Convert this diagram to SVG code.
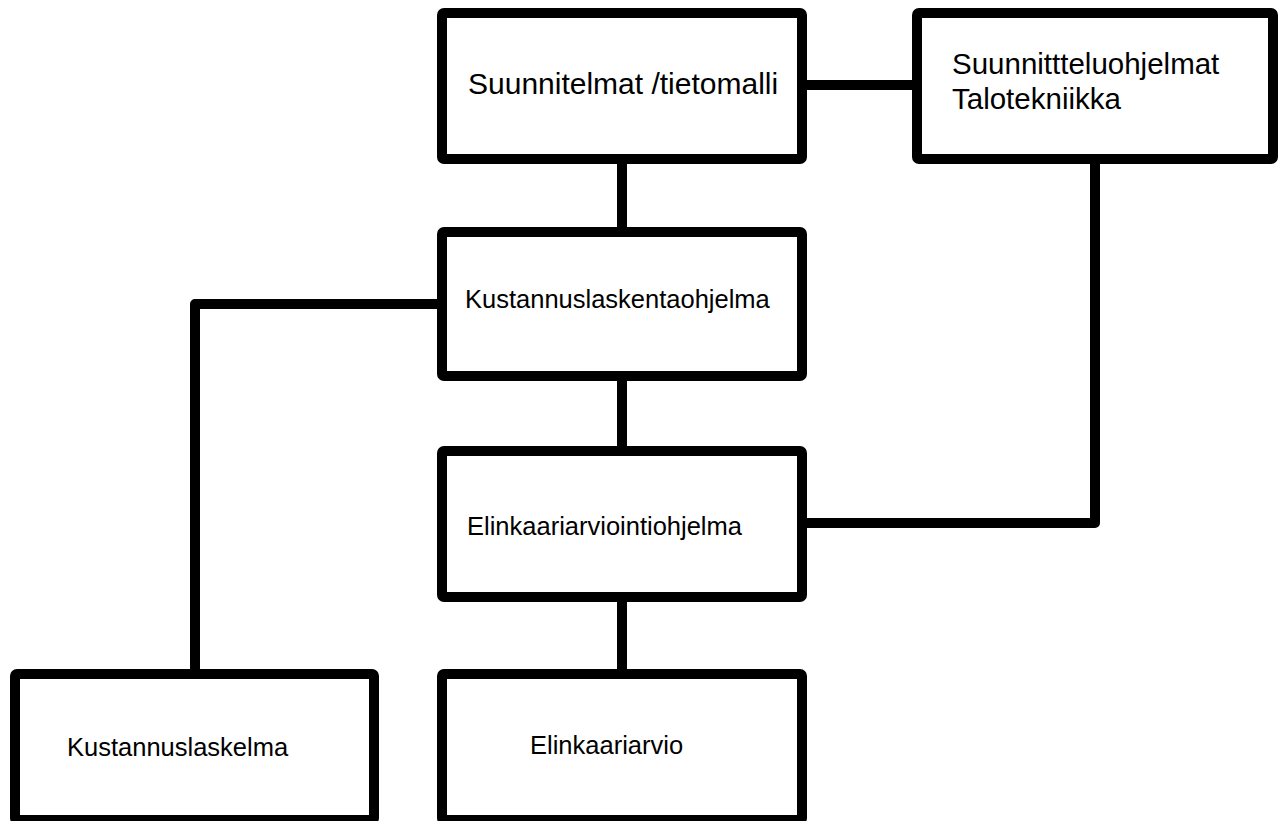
<svg xmlns="http://www.w3.org/2000/svg" width="1279" height="821" viewBox="0 0 1279 821">
<style>
.box{fill:#ffffff;stroke:#000000;stroke-width:10;stroke-linejoin:round}
.con{fill:none;stroke:#000000;stroke-width:10;stroke-linejoin:round}
.lg{font-family:"Liberation Sans",Arial,sans-serif;font-size:30px;fill:#000000}
.md{font-family:"Liberation Sans",Arial,sans-serif;font-size:29.5px;fill:#000000}
.sm{font-family:"Liberation Sans",Arial,sans-serif;font-size:25.5px;fill:#000000}
</style>
<rect x="0" y="0" width="1279" height="821" fill="#ffffff"/>
<g id="connectors">
<line class="con" x1="802" y1="85" x2="917" y2="85"/>
<line class="con" x1="622" y1="159" x2="622" y2="232"/>
<line class="con" x1="622" y1="376" x2="622" y2="451"/>
<line class="con" x1="622" y1="597" x2="622" y2="674"/>
<path class="con" d="M442,304 H195 V674"/>
<path class="con" d="M1095,159 V523 H802"/>
</g>
<g id="node-suunnitelmat">
<rect class="box" x="442" y="13" width="360" height="146" rx="2"/>
<text class="lg" x="468" y="94">Suunnitelmat /tietomalli</text>
</g>
<g id="node-suunnitteluohjelmat">
<rect class="box" x="917" y="13" width="356" height="146" rx="2"/>
<text class="md" x="952" y="74">Suunnittteluohjelmat</text>
<text class="md" x="952" y="109">Talotekniikka</text>
</g>
<g id="node-kustannuslaskentaohjelma">
<rect class="box" x="442" y="232" width="360" height="144" rx="2"/>
<text class="sm" x="465" y="308">Kustannuslaskentaohjelma</text>
</g>
<g id="node-elinkaariarviointiohjelma">
<rect class="box" x="442" y="451" width="360" height="146" rx="2"/>
<text class="sm" x="467" y="535">Elinkaariarviointiohjelma</text>
</g>
<g id="node-kustannuslaskelma">
<rect class="box" x="15" y="674" width="359" height="146" rx="2"/>
<text class="sm" x="67" y="756">Kustannuslaskelma</text>
</g>
<g id="node-elinkaariarvio">
<rect class="box" x="442" y="674" width="360" height="146" rx="2"/>
<text class="sm" x="530" y="754">Elinkaariarvio</text>
</g>
</svg>
